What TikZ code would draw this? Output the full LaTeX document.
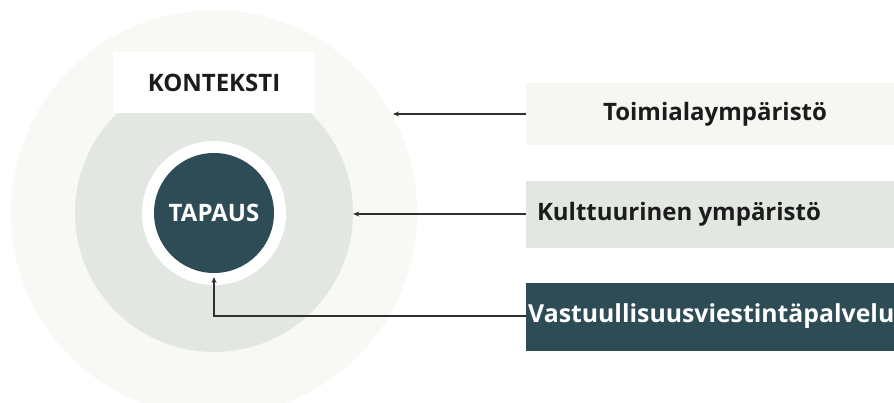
\documentclass[tikz,border=0pt]{standalone}
\usepackage{fontspec}
\setmainfont{Open Sans}
\usetikzlibrary{arrows.meta}
\definecolor{ringOuter}{HTML}{F8F9F5}
\definecolor{ringMid}{HTML}{E2E7E2}
\definecolor{caseDark}{HTML}{2E4C55}
\definecolor{boxLight}{HTML}{F6F6F3}
\definecolor{boxMid}{HTML}{E2E7E1}
\definecolor{inkDark}{HTML}{1C1C1C}
\definecolor{lineDark}{HTML}{303030}
\tikzset{
  lbl/.style={font=\fontsize{24}{28}\selectfont\bfseries, text=inkDark},
  panel/.style={draw=none, anchor=north west, inner sep=0pt},
  link/.style={draw=lineDark, line width=1.3pt, -{Stealth[length=6pt,width=5pt]}},
}
\begin{document}
\begin{tikzpicture}[x=1pt,y=-1pt]
  \useasboundingbox (0,0) rectangle (894,403);
  \fill[white] (0,0) rectangle (894,403);
  % concentric circles
  \node[circle, fill=ringOuter, minimum size=406pt, inner sep=0pt] (outer) at (214,213) {};
  \node[circle, fill=ringMid, minimum size=278pt, inner sep=0pt] (mid) at (214,213) {};
  \node[circle, fill=white, minimum size=144pt, inner sep=0pt] (ring) at (214,213) {};
  \node[circle, fill=caseDark, minimum size=120pt, inner sep=0pt,
        font=\fontsize{24}{28}\selectfont\bfseries, text=white] (case) at (214,213) {TAPAUS};
  % context label box
  \node[fill=white, minimum width=202pt, minimum height=61pt, inner sep=0pt, lbl] (ctx) at (214,83) {KONTEKSTI};
  % side panels
  \node[panel, fill=boxLight, minimum width=368pt, minimum height=62pt] (box1) at (526,83) {};
  \node[panel, fill=boxMid, minimum width=368pt, minimum height=67pt] (box2) at (526,181) {};
  \node[panel, fill=caseDark, minimum width=368pt, minimum height=68pt] (box3) at (526,283) {};
  \node[lbl] (t1) at (715,114) {Toimialaympäristö};
  \node[lbl] (t2) at (679,214) {Kulttuurinen ympäristö};
  \node[lbl, font=\fontsize{24.8}{28}\selectfont\bfseries, text=white, anchor=west, inner sep=0pt]
       (t3) at (528,316) {Vastuullisuusviestintäpalvelu};
  % arrow targets
  \coordinate (p1) at (393,114);
  \coordinate (p3) at (214,277);
  \draw[link] (box1.west |- t1) -- (p1);
  \draw[link] (box2.west |- t2) -- (mid.east |- t2);
  \draw[link] (box3.west |- t3) -| (p3);
\end{tikzpicture}
\end{document}
